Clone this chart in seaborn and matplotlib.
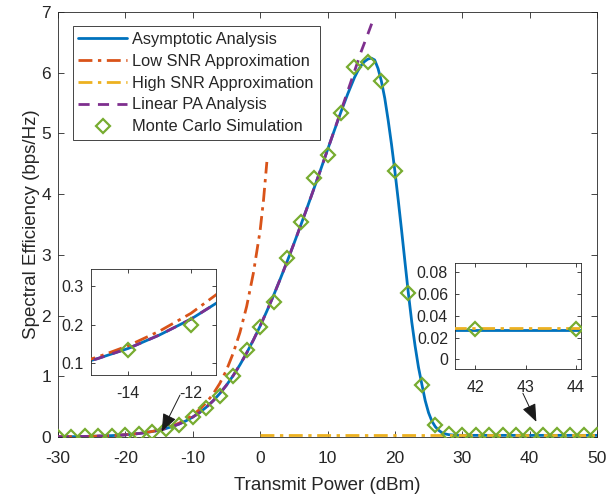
import matplotlib
matplotlib.use("Agg")
import matplotlib.pyplot as plt
import seaborn as sns
import numpy as np

# ---------------- data ----------------
asym_x = [-30, -28, -26, -24, -22, -20, -18, -16, -15, -14, -13, -12, -11, -10, -9, -8, -7, -6,
          -5, -4, -3, -2, -1, 0, 1, 2, 3, 4, 5, 6, 7, 8, 9, 10, 11, 12, 13, 14, 14.5, 15, 15.5, 16,
          16.5, 17, 17.5, 18, 18.5, 19, 19.5, 20, 20.5, 21, 21.5, 22, 22.5, 23, 23.5, 24, 24.5, 25,
          25.5, 26, 26.5, 27, 27.5, 28, 29, 30, 35, 40, 45, 50]
asym_y = [0.0037, 0.0058, 0.0092, 0.0146, 0.023, 0.036, 0.057, 0.090, 0.112, 0.139, 0.174, 0.215,
          0.266, 0.328, 0.401, 0.490, 0.593, 0.714, 0.853, 1.011, 1.188, 1.384, 1.597, 1.828, 2.074,
          2.333, 2.606, 2.888, 3.180, 3.479, 3.784, 4.095, 4.409, 4.728, 5.045, 5.355, 5.650, 5.920,
          6.030, 6.120, 6.185, 6.225, 6.240, 6.210, 6.070, 5.860, 5.580, 5.220, 4.820, 4.380, 3.900,
          3.400, 2.880, 2.370, 1.900, 1.500, 1.150, 0.870, 0.600, 0.400, 0.260, 0.170, 0.110, 0.070,
          0.050, 0.038, 0.030, 0.027, 0.027, 0.027, 0.027, 0.027]

low_x = [-30, -28, -26, -24, -22, -20, -18, -16, -15, -14, -13, -12, -11, -10, -9, -8, -7, -6, -5,
         -4, -3, -2, -1, 0, 0.5, 1.0]
low_y = [0.0037, 0.0058, 0.0092, 0.0146, 0.023, 0.037, 0.058, 0.092, 0.116, 0.146, 0.184, 0.230,
         0.290, 0.362, 0.452, 0.565, 0.705, 0.880, 1.100, 1.380, 1.720, 2.150, 2.700, 3.400,
         3.900, 4.530]

high_x = [0, 10, 20, 30, 40, 50]
high_y = [0.029, 0.029, 0.029, 0.029, 0.029, 0.029]

lin_x = [-30, -28, -26, -24, -22, -20, -18, -16, -15, -14, -13, -12, -11, -10, -9, -8, -7, -6, -5,
         -4, -3, -2, -1, 0, 1, 2, 3, 4, 5, 6, 7, 8, 9, 10, 11, 12, 13, 14, 15, 16, 16.7]
lin_y = [0.0037, 0.0058, 0.0092, 0.0146, 0.023, 0.036, 0.057, 0.090, 0.112, 0.139, 0.174, 0.215,
         0.266, 0.328, 0.401, 0.490, 0.593, 0.714, 0.853, 1.011, 1.188, 1.384, 1.597, 1.828, 2.074,
         2.333, 2.606, 2.888, 3.180, 3.479, 3.784, 4.095, 4.409, 4.728, 5.049, 5.372, 5.697, 6.022,
         6.350, 6.640, 6.850]

mc_x = [-30, -28, -26, -24, -22, -20, -18, -16, -14, -12, -10, -8, -6, -4, -2, 0, 2, 4, 6, 8, 10,
        12, 14, 16, 18, 20, 22, 24, 26, 28, 30, 32, 34, 36, 38, 40, 42, 44, 46, 48, 50]
mc_y = [0.004, 0.006, 0.009, 0.015, 0.023, 0.036, 0.057, 0.090, 0.135, 0.200, 0.330, 0.480, 0.680,
        1.000, 1.430, 1.810, 2.220, 2.950, 3.540, 4.270, 4.650, 5.340, 6.090, 6.180, 5.860, 4.380,
        2.370, 0.860, 0.200, 0.045, 0.028, 0.028, 0.028, 0.028, 0.028, 0.028, 0.028, 0.028, 0.028,
        0.028, 0.028]

labels = ["Asymptotic Analysis", "Low SNR Approximation", "High SNR Approximation",
          "Linear PA Analysis", "Monte Carlo Simulation"]

xticks_main = [-30, -20, -10, 0, 10, 20, 30, 40, 50]
yticks_main = [0, 1, 2, 3, 4, 5, 6, 7]

# ---------------- style ----------------
sns.set_theme(style="ticks")
plt.rcParams['font.family'] = ['Liberation Sans', 'DejaVu Sans']
plt.rcParams['axes.edgecolor'] = '#262626'
plt.rcParams['xtick.color'] = '#262626'
plt.rcParams['ytick.color'] = '#262626'
plt.rcParams['axes.labelcolor'] = '#262626'
plt.rcParams['text.color'] = '#262626'

C_BLUE = '#0072BD'
C_ORANGE = '#D95319'
C_YELLOW = '#EDB120'
C_PURPLE = '#7E2F8E'
C_GREEN = '#77AC30'

fig = plt.figure(figsize=(6.10, 4.95), dpi=100)
ax = fig.add_axes([58 / 610, 1 - 437 / 495, (597 - 58) / 610, (437 - 12) / 495])


def draw(a, label=True):
    sns.lineplot(x=asym_x, y=asym_y, ax=a, color=C_BLUE, lw=2.0, sort=False,
                 label=labels[0] if label else None, zorder=2)
    sns.lineplot(x=low_x, y=low_y, ax=a, color=C_ORANGE, lw=2.0, sort=False,
                 linestyle=(0, (5, 2, 1.2, 2)), label=labels[1] if label else None, zorder=3)
    sns.lineplot(x=high_x, y=high_y, ax=a, color=C_YELLOW, lw=2.0, sort=False,
                 linestyle=(0, (5, 2, 1.2, 2)), label=labels[2] if label else None, zorder=4)
    sns.lineplot(x=lin_x, y=lin_y, ax=a, color=C_PURPLE, lw=2.0, sort=False,
                 linestyle=(0, (4, 3)), label=labels[3] if label else None, zorder=5)
    sns.lineplot(x=mc_x, y=mc_y, ax=a, color=C_GREEN, sort=False, linestyle='none', marker='D',
                 markersize=7.4, markerfacecolor='none', markeredgecolor=C_GREEN,
                 markeredgewidth=1.6, label=labels[4] if label else None, zorder=6)


draw(ax)
ax.set_xlim(-30, 50)
ax.set_ylim(0, 7)
ax.set_xticks(xticks_main)
ax.set_yticks(yticks_main)
ax.set_xticklabels([str(t) for t in xticks_main])
ax.set_yticklabels([str(t) for t in yticks_main])
ax.tick_params(direction='in', length=4, width=0.6, labelsize=12.5, top=True, right=True)
ax.tick_params(axis='x', pad=10)
ax.tick_params(axis='y', pad=5)
for s in ax.spines.values():
    s.set_linewidth(0.6)
    s.set_visible(True)
ax.set_xlabel("Transmit Power (dBm)", fontsize=13.5, labelpad=8)
ax.set_ylabel("Spectral Efficiency (bps/Hz)", fontsize=13.5, labelpad=1)

leg = ax.legend(loc='upper left', bbox_to_anchor=(0.027, 0.967), borderaxespad=0, fontsize=11.8,
                handlelength=3.0, handletextpad=0.3, labelspacing=0.42, borderpad=0.35,
                frameon=True, fancybox=False, edgecolor='#262626', framealpha=1)
leg.get_frame().set_linewidth(0.6)

# arrows
arrowprops = dict(arrowstyle='-|>,head_length=0.55,head_width=0.22', color='k', lw=0.7,
                  mutation_scale=20, shrinkA=0, shrinkB=0)
ax.annotate('', xy=(-14.6, 0.09), xytext=(-11.9, 0.69), arrowprops=arrowprops, zorder=10)
ax.annotate('', xy=(41.0, 0.25), xytext=(39.0, 0.72), arrowprops=arrowprops, zorder=10)

# left inset
ax1 = fig.add_axes([90.7 / 610, 1 - 375 / 495, (216 - 90.7) / 610, (375 - 269) / 495])
draw(ax1, label=False)
ax1.set_xlim(-15.2, -11.2)
ax1.set_ylim(0.07, 0.345)
ax1.set_xticks([-14, -12])
ax1.set_xticklabels(['-14', '-12'])
ax1.set_yticks([0.1, 0.2, 0.3])
ax1.set_yticklabels(['0.1', '0.2', '0.3'])

# right inset
ax2 = fig.add_axes([455 / 610, 1 - 369 / 495, (581 - 455) / 610, (369 - 263) / 495])
draw(ax2, label=False)
ax2.set_xlim(41.6, 44.1)
ax2.set_ylim(-0.009, 0.0886)
ax2.set_xticks([42, 43, 44])
ax2.set_xticklabels(['42', '43', '44'])
ax2.set_yticks([0, 0.02, 0.04, 0.06, 0.08])
ax2.set_yticklabels(['0', '0.02', '0.04', '0.06', '0.08'])

for a in (ax1, ax2):
    a.set_xlabel('')
    a.set_ylabel('')
    a.tick_params(direction='in', length=3, width=0.6, labelsize=11.5, top=True, right=True)
    a.tick_params(axis='x', pad=8)
    a.tick_params(axis='y', pad=5)
    for s in a.spines.values():
        s.set_linewidth(0.6)
        s.set_visible(True)
    a.set_facecolor('white')
    if a.get_legend() is not None:
        a.get_legend().remove()

fig.savefig("out.png", dpi=100)
